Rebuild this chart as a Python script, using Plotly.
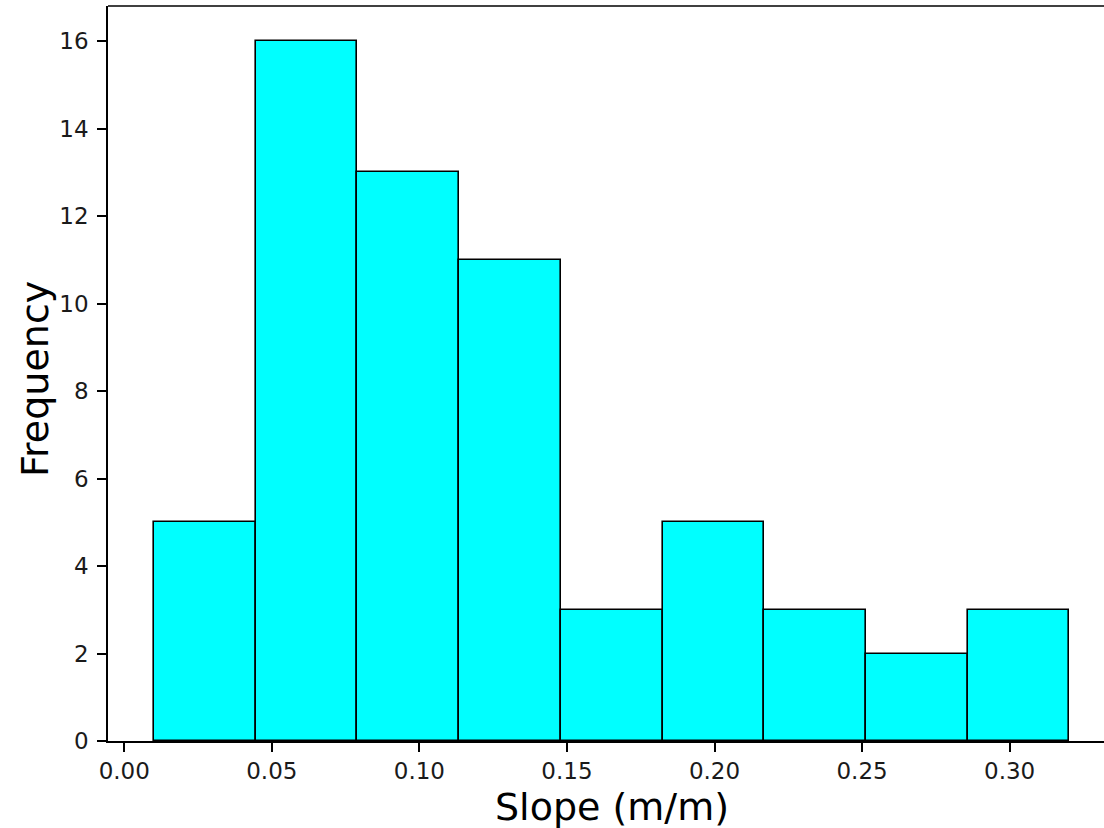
import plotly.graph_objects as go

# Histogram data
bin_edges = [0.0100, 0.0445, 0.0790, 0.1134, 0.1479, 0.1824, 0.2168, 0.2513, 0.2858, 0.3202]
counts = [5, 16, 13, 11, 3, 5, 3, 2, 3]
x_ticks = [0.00, 0.05, 0.10, 0.15, 0.20, 0.25, 0.30]
y_ticks = [0, 2, 4, 6, 8, 10, 12, 14, 16]
x_label = "Slope (m/m)"
y_label = "Frequency"

centers = [(a + b) / 2 for a, b in zip(bin_edges[:-1], bin_edges[1:])]
widths = [b - a for a, b in zip(bin_edges[:-1], bin_edges[1:])]

span = bin_edges[-1] - bin_edges[0]
x_min = bin_edges[0] - 0.05 * span
x_max_full = bin_edges[-1] + 0.05 * span
y_max = max(counts) * 1.05

FONT = "DejaVu Sans"

fig = go.Figure(
    go.Bar(
        x=centers,
        y=counts,
        width=widths,
        marker=dict(color="#00ffff", line=dict(color="black", width=1.6)),
        hoverinfo="x+y",
    )
)

# plot area: left 108, top 6, bottom 741; figure cropped on the right
W, H = 1104, 828
L, T, B = 108, 6, 87
px_per_unit = (1115 - L) / (x_max_full - x_min)
x_max_visible = x_min + (W - L) / px_per_unit

fig.update_layout(
    width=W,
    height=H,
    margin=dict(l=L, r=0, t=T, b=B, pad=0),
    paper_bgcolor="white",
    plot_bgcolor="white",
    bargap=0,
    showlegend=False,
    font=dict(family=FONT, color="black"),
    xaxis=dict(
        range=[x_min, x_max_visible],
        tickmode="array",
        tickvals=x_ticks,
        ticktext=[f"{v:.2f}" for v in x_ticks],
        ticks="outside",
        ticklen=9,
        tickwidth=1.6,
        tickcolor="black",
        showline=True,
        linecolor="black",
        linewidth=1.6,
        showgrid=False,
        zeroline=False,
        tickfont=dict(size=23, family=FONT, color="#1a1a1a"),
    ),
    yaxis=dict(
        range=[0, y_max],
        tickmode="array",
        tickvals=y_ticks,
        ticks="outside",
        ticklen=9,
        tickwidth=1.6,
        tickcolor="black",
        showline=True,
        linecolor="black",
        linewidth=1.6,
        showgrid=False,
        zeroline=False,
        ticklabelstandoff=4,
        tickfont=dict(size=23, family=FONT, color="#1a1a1a"),
    ),
    shapes=[
        dict(type="line", xref="paper", yref="paper", x0=0, x1=1, y0=1, y1=1,
             line=dict(color="black", width=1.6)),
    ],
    annotations=[
        dict(text=x_label, xref="x", yref="paper",
             x=(x_min + x_max_full) / 2, y=0, yshift=-42,
             xanchor="center", yanchor="top", showarrow=False,
             font=dict(size=38, family=FONT, color="black")),
        dict(text=y_label, xref="paper", yref="paper",
             x=0, y=0.4925, xshift=-73, textangle=-90,
             xanchor="center", yanchor="middle", showarrow=False,
             font=dict(size=38, family=FONT, color="black")),
    ],
)

fig.write_html(
    "out.html",
    config={"displayModeBar": False},
    post_script="document.body.style.margin='0';document.body.style.overflow='hidden';",
)
